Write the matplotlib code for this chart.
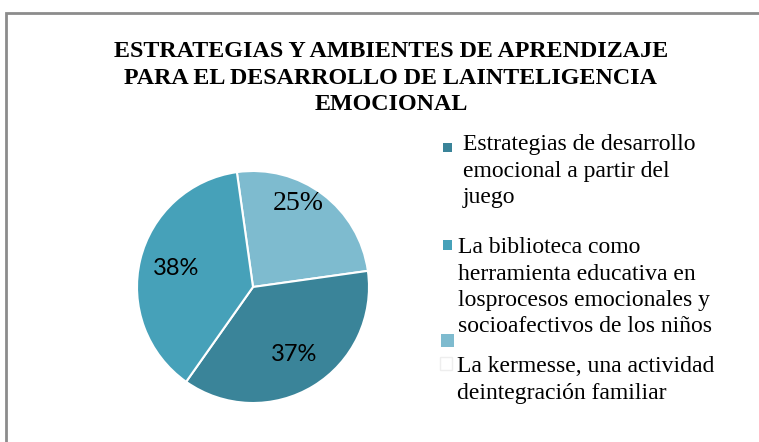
import matplotlib
matplotlib.use("Agg")
import matplotlib.pyplot as plt
from matplotlib.patches import Rectangle
from matplotlib.transforms import Bbox, TransformedBbox

# canvas size in pixels (figure drawn in pixel coordinates, y measured from top)
W, H = 759, 442

title_lines = [
    "ESTRATEGIAS Y AMBIENTES DE APRENDIZAJE",
    "PARA EL DESARROLLO DE LAINTELIGENCIA",
    "EMOCIONAL",
]
categories = [
    "Estrategias de desarrollo\nemocional a partir del\njuego",
    "La biblioteca como\nherramienta educativa en\nlosprocesos emocionales y\nsocioafectivos de los niños",
    "La kermesse, una actividad\ndeintegración familiar",
]
values = [37, 38, 25]
colors = ["#3a8499", "#46a1b9", "#7ebbcf"]
pie_order = [2, 0, 1]   # drawn clockwise from just left of 12 o'clock


def Y(y):
    return H - y


fig = plt.figure(figsize=(W / 100, H / 100), dpi=100)
ax = fig.add_axes([0, 0, 1, 1])

# --- pie ---
wedges, texts, autotexts = ax.pie(
    [values[i] for i in pie_order],
    colors=[colors[i] for i in pie_order],
    startangle=98, counterclock=False,
    center=(253, Y(287)), radius=116,
    autopct="%.0f%%", pctdistance=0.68,
    wedgeprops=dict(edgecolor="white", linewidth=1.5),
    textprops=dict(family="Lato", fontsize=17, color="black"),
)
ax.set_xlim(0, W)
ax.set_ylim(0, H)
ax.set_aspect("equal")
ax.axis("off")

# the kermesse label shows in a larger serif font, with a clipped remnant below it
lbl = autotexts[0]
ghost = ax.text(302, Y(236), lbl.get_text(), family="Lato", fontsize=17,
                ha="center", va="center")
ghost.set_clip_on(True)
ghost.set_clip_box(TransformedBbox(Bbox([[270, Y(248)], [330, Y(242)]]),
                                   ax.transData))
lbl.set_position((298, Y(203)))
lbl.set_family("Liberation Serif")
lbl.set_fontsize(20)

# --- frame ---
ax.add_patch(Rectangle((6, -20), 800, Y(13) + 20, fill=False,
                       edgecolor="#8c8c8c", linewidth=2, clip_on=False))

# --- title ---
for i, line in enumerate(title_lines):
    ax.text(391, Y(57 + 26.5 * i), line, family="Liberation Serif",
            fontweight="bold", fontsize=17.3, ha="center", va="baseline")

# --- legend (layout as in the original, slightly misaligned) ---
text_x = [463, 458, 457]
first_base = [150, 253, 372]
for k, cat in enumerate(categories):
    for j, line in enumerate(cat.split("\n")):
        ax.text(text_x[k], Y(first_base[k] + 26.5 * j), line,
                family="Liberation Serif", fontsize=17, va="baseline")

marker_boxes = [(443, 143, 9, 9), (443, 240, 9, 10), (441, 334, 13, 13)]
for k, (mx, my, mw, mh) in enumerate(marker_boxes):
    ax.add_patch(Rectangle((mx, Y(my + mh)), mw, mh, facecolor=colors[k],
                           edgecolor="none"))
ax.add_patch(Rectangle((440, Y(370)), 12, 13, facecolor="white",
                       edgecolor="#eeeeee", linewidth=1))

fig.savefig("out.png", dpi=100)
